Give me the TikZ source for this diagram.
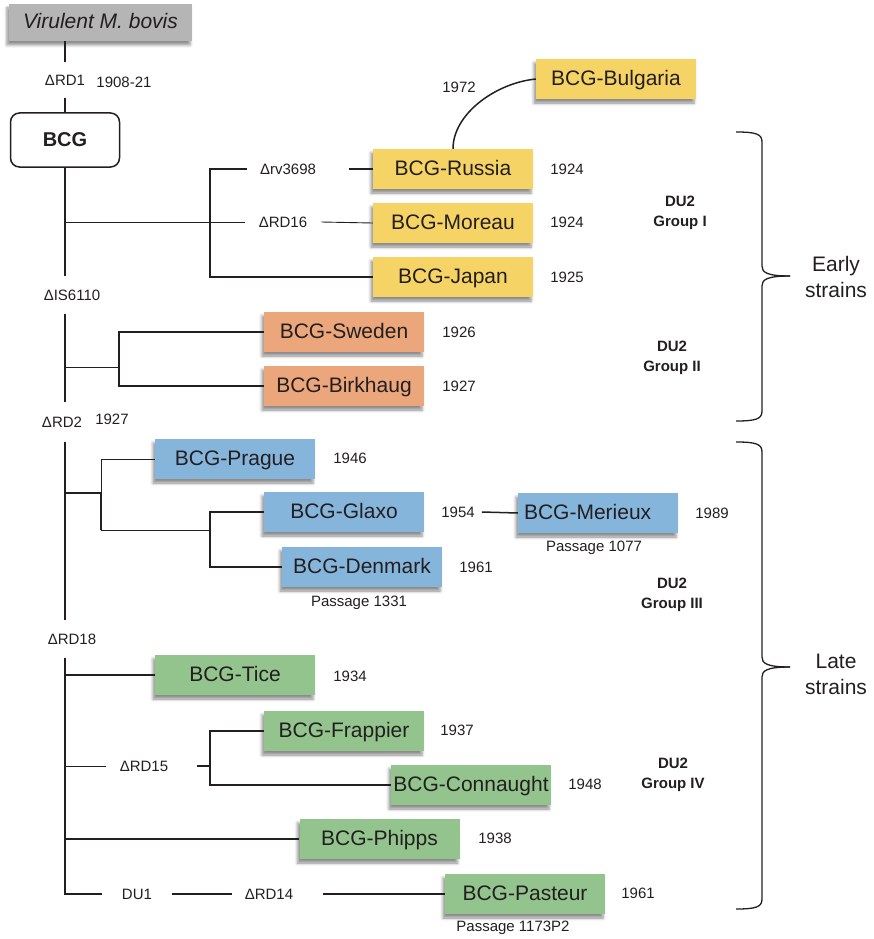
\documentclass[tikz,border=0pt]{standalone}
\usepackage{fontspec}
\setmainfont{Liberation Sans}
\usetikzlibrary{shadows,shadows.blur}
\definecolor{cyel}{HTML}{F6D365}
\definecolor{corg}{HTML}{EBA67B}
\definecolor{cblu}{HTML}{86B5DC}
\definecolor{cgrn}{HTML}{93C48D}
\definecolor{cgry}{HTML}{B5B5B5}
\definecolor{ink}{HTML}{231F20}
\begin{document}
\begin{tikzpicture}[x=1pt,y=-1pt,
  strain/.style={rectangle, minimum width=160pt, minimum height=40pt, inner sep=2pt,
    text height=16pt, text depth=3pt,
    font=\fontsize{21}{24}\selectfont, text=ink,
    blur shadow={shadow xshift=-2pt, shadow yshift=-4pt, shadow blur radius=3pt, shadow opacity=45}},
  ystrain/.style={strain, fill=cyel},
  ostrain/.style={strain, fill=corg},
  bstrain/.style={strain, fill=cblu},
  gstrain/.style={strain, fill=cgrn},
  lbl/.style={font=\fontsize{15}{17}\selectfont, text=ink, inner sep=0pt},
  grp/.style={font=\fontsize{15}{20}\selectfont\bfseries, text=ink, align=center, inner sep=0pt},
  big/.style={font=\fontsize{21}{26}\selectfont, text=ink, align=center, inner sep=0pt},
  lnA/.style={draw=ink, line width=1.5pt},
  lnB/.style={draw=ink, line width=0.9pt},
  brc/.style={draw=ink, line width=1.3pt},
]
\useasboundingbox (0,0) rectangle (873,939);
\coordinate (trunkx) at (65,0);

% top
\node[fill=cgry, minimum width=183pt, minimum height=37pt, inner sep=0pt,
  text height=16pt, text depth=4pt,
  font=\fontsize{21}{24}\selectfont\itshape, text=ink,
  blur shadow={shadow xshift=-2pt, shadow yshift=-4pt, shadow blur radius=3pt, shadow opacity=45}]
  (bovis) at (100.5,22.5) {Virulent M. bovis};
\node[lbl, minimum height=35pt] (rd1) at (65,80) {ΔRD1};
\node[lbl] (rd1y) at (124,82) {1908-21};
\node[draw=ink, line width=1.5pt, rounded corners=9pt, minimum width=109pt, minimum height=54pt,
  font=\fontsize{20}{24}\selectfont\bfseries, text=ink] (bcg) at (65,140) {BCG};
\node[lbl, minimum height=38pt] (is) at (72,295) {ΔIS6110};
\node[lbl, minimum height=40pt] (rd2) at (62,422) {ΔRD2};
\node[lbl] (rd2y) at (112,419) {1927};
\node[lbl, minimum height=38pt] (rd18) at (72,639) {ΔRD18};

% trunk
\draw[lnA] (bovis.south -| trunkx) -- (rd1.north -| trunkx);
\draw[lnA] (rd1.south -| trunkx) -- (bcg.north -| trunkx);
\draw[lnA] (bcg.south -| trunkx) -- (is.north -| trunkx);
\draw[lnA] (is.south -| trunkx) -- (rd2.north -| trunkx);
\draw[lnA] (rd2.south -| trunkx) -- (rd18.north -| trunkx);

% DU2 group I
\node[ystrain] (russia) at (453,169) {BCG-Russia};
\node[ystrain] (moreau) at (453,223) {BCG-Moreau};
\node[ystrain] (japan) at (453,277) {BCG-Japan};
\node[ystrain] (bulgaria) at (616,79) {BCG-Bulgaria};
\node[lbl] (y1972) at (459,87) {1972};
\node[lbl] (y1924a) at (567,169) {1924};
\node[lbl] (y1924b) at (567,222) {1924};
\node[lbl] (y1925) at (567,277) {1925};
\node[lbl, inner xsep=13pt] (rv) at (288,169) {Δrv3698};
\node[lbl, inner xsep=14pt] (rd16) at (283,222) {ΔRD16};
\coordinate (b1) at (65,222);
\coordinate (j1) at (210,222);
\draw[lnB] (b1) -- (rd16.west);
\draw[lnB] (rd16.east) -- (moreau.west);
\draw[lnA] (rv.west) -- (rv.west -| j1) -- (japan.west -| j1) -- (japan.west);
\draw[lnA] ([xshift=20pt]rv.east) -- (russia.west);
\draw[lnA] (russia.north) .. controls +(0,-35) and +(-40,4) .. (bulgaria.west);
\node[grp] (g1) at (680,213) {DU2\\Group I};

% DU2 group II
\node[ostrain] (sweden) at (344,332) {BCG-Sweden};
\node[ostrain] (birkhaug) at (344,386) {BCG-Birkhaug};
\node[lbl] (y1926) at (459,332) {1926};
\node[lbl] (y1927) at (459,386) {1927};
\coordinate (b2) at (65,367);
\coordinate (j2) at (119,367);
\draw[lnB] (b2) -- (j2);
\draw[lnA] (sweden.west) -| (birkhaug.west -| j2) -- (birkhaug.west);
\node[grp] (g2) at (672,358) {DU2\\Group II};

% DU2 group III
\node[bstrain] (prague) at (235,459) {BCG-Prague};
\node[bstrain] (glaxo) at (344,512) {BCG-Glaxo};
\node[bstrain] (denmark) at (362,567) {BCG-Denmark};
\node[bstrain, text width=148pt, align=left, inner xsep=6pt] (merieux) at (598,513) {BCG-Merieux};
\node[lbl] (y1946) at (350,458) {1946};
\node[lbl, inner xsep=7pt] (y1954) at (458,512) {1954};
\node[lbl] (y1989) at (712,513) {1989};
\node[lbl] (y1961a) at (476,567) {1961};
\node[lbl] (p1331) at (359,603) {Passage 1331};
\node[lbl] (p1077) at (594,548) {Passage 1077};
\coordinate (b3) at (65,493);
\coordinate (j3) at (101,493);
\coordinate (j3b) at (101,530);
\coordinate (j4) at (210,530);
\draw[lnA] (b3) -- (j3);
\draw[lnB] (prague.west) -| (j3b) -- (j4);
\draw[lnA] (j3) -- (j3b);
\draw[lnA] (glaxo.west) -| (denmark.west -| j4) -- (denmark.west);
\draw[lnA] (y1954.east) -- (merieux.west);
\node[grp] (g3) at (672,595) {DU2\\Group III};

% DU2 group IV
\node[gstrain] (tice) at (235,675) {BCG-Tice};
\node[gstrain] (frappier) at (344,731) {BCG-Frappier};
\node[gstrain, inner xsep=1pt] (connaught) at (471,785) {BCG-Connaught};
\node[gstrain] (phipps) at (379.5,839) {BCG-Phipps};
\node[gstrain] (pasteur) at (525,894) {BCG-Pasteur};
\node[lbl] (y1934) at (350,676) {1934};
\node[lbl] (y1937) at (457,730) {1937};
\node[lbl] (y1948) at (585,784) {1948};
\node[lbl] (y1938) at (495,838) {1938};
\node[lbl] (y1961b) at (638,893) {1961};
\node[lbl] (p1173) at (513,928) {Passage 1173P2};
\node[lbl, inner xsep=14pt] (rd15) at (144,766) {ΔRD15};
\node[lbl, inner xsep=20pt] (du1) at (137,894) {DU1};
\node[lbl, inner xsep=13pt] (rd14) at (269,894) {ΔRD14};
\coordinate (j5) at (210,766);
\draw[lnA] (rd18.south -| trunkx) -- (du1.west -| trunkx) -- (du1.west);
\draw[lnA] (tice.west -| trunkx) -- (tice.west);
\draw[lnB] (rd15.west -| trunkx) -- (rd15.west);
\draw[lnA] ([xshift=15pt]rd15.east) -- (j5);
\draw[lnA] (frappier.west) -| (connaught.west -| j5) -- (connaught.west);
\draw[lnA] (phipps.west -| trunkx) -- (phipps.west);
\draw[lnA] (du1.east) -- (rd14.west);
\draw[lnA] ([xshift=17pt]rd14.east) -- (pasteur.west);
\node[grp] (g4) at (673,775) {DU2\\Group IV};

% braces
\draw[brc] (736,132) .. controls (756,132) and (762,134) .. (762,142) -- (762,266)
  .. controls (762,272) and (766,276) .. (790,276);
\draw[brc] (790,276) .. controls (766,276) and (762,280) .. (762,286) -- (762,411)
  .. controls (762,419) and (756,421) .. (736,421);
\node[big] (early) at (836,277) {Early\\strains};
\draw[brc] (736,442) .. controls (756,442) and (762,444) .. (762,452) -- (762,657)
  .. controls (762,663) and (766,667) .. (790,667);
\draw[brc] (790,667) .. controls (766,667) and (762,671) .. (762,677) -- (762,899)
  .. controls (762,907) and (756,909) .. (736,909);
\node[big] (late) at (836,674) {Late\\strains};
\end{tikzpicture}
\end{document}
